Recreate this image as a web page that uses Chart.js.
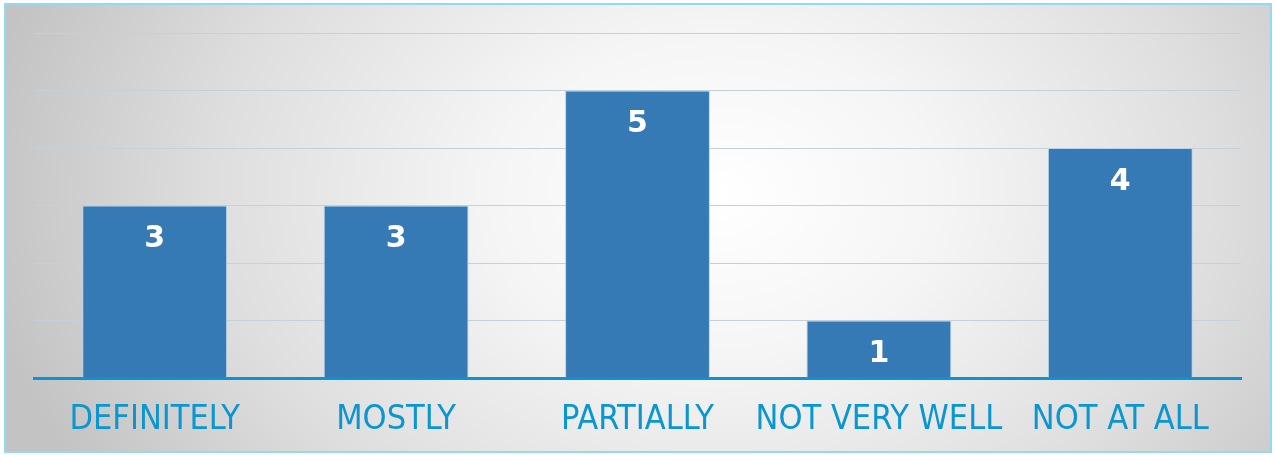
<!DOCTYPE html>
<html><head><meta charset="utf-8">
<script src="https://cdn.jsdelivr.net/npm/chart.js@4"></script>
<style>
html,body{margin:0;padding:0;width:1276px;height:455px;overflow:hidden;background:#fff;}
#frame{position:absolute;left:4px;top:3px;width:1264px;height:446px;border:2px solid #93d9f5;
background:radial-gradient(ellipse 740px 540px at 710px 190px,#ffffff 0%,#f5f5f5 30%,#dedede 68%,#c3c3c3 100%);}
canvas{position:absolute;left:0;top:0;}
</style></head><body>
<div id="frame"></div><canvas id="c" width="1276" height="455"></canvas>
<script>
const categories = ["DEFINITELY","MOSTLY","PARTIALLY","NOT VERY WELL","NOT AT ALL"];
const values = [3,3,5,1,4];
const yTicks = [0,1,2,3,4,5,6];

const labelPlugin = {
  id:'vals',
  afterDatasetsDraw(chart){
    const ctx = chart.ctx;
    const meta = chart.getDatasetMeta(0);
    ctx.save();
    ctx.fillStyle='#ffffff';
    ctx.font='bold 30px "DejaVu Sans"';
    ctx.textAlign='center';
    ctx.textBaseline='middle';
    meta.data.forEach((bar,i)=>{
      ctx.fillText(String(values[i]), bar.x, bar.y+34);
    });
    ctx.restore();
  }
};

new Chart(document.getElementById('c'),{
  type:'bar',
  data:{labels:categories,datasets:[{data:values,backgroundColor:'#357ab5',borderColor:'#b8d2e6',borderWidth:{left:1,right:1,top:1,bottom:0},
    barPercentage:0.6,categoryPercentage:1.0}]},
  options:{
    responsive:false,animation:false,devicePixelRatio:1,
    layout:{padding:{left:34,right:35,top:33,bottom:0}},
    plugins:{legend:{display:false},tooltip:{enabled:false}},
    scales:{
      x:{grid:{display:false,drawTicks:false},
         border:{color:'#0796d2',width:3},
         afterFit(ax){ax.height=77;},
         ticks:{color:'#0a96d0',font:{family:'"DejaVu Sans Condensed", "DejaVu Sans"',size:34},padding:22,
                maxRotation:0,minRotation:0,autoSkip:false}},
      y:{min:0,max:6,afterBuildTicks(ax){ax.ticks=yTicks.map(v=>({value:v}));},
         ticks:{display:false},
         afterFit(ax){ax.width=0;},
         grid:{color:'#c3d2da',lineWidth:1,drawTicks:false},
         border:{display:false}}
    }
  },
  plugins:[labelPlugin]
});
</script>
</body></html>
